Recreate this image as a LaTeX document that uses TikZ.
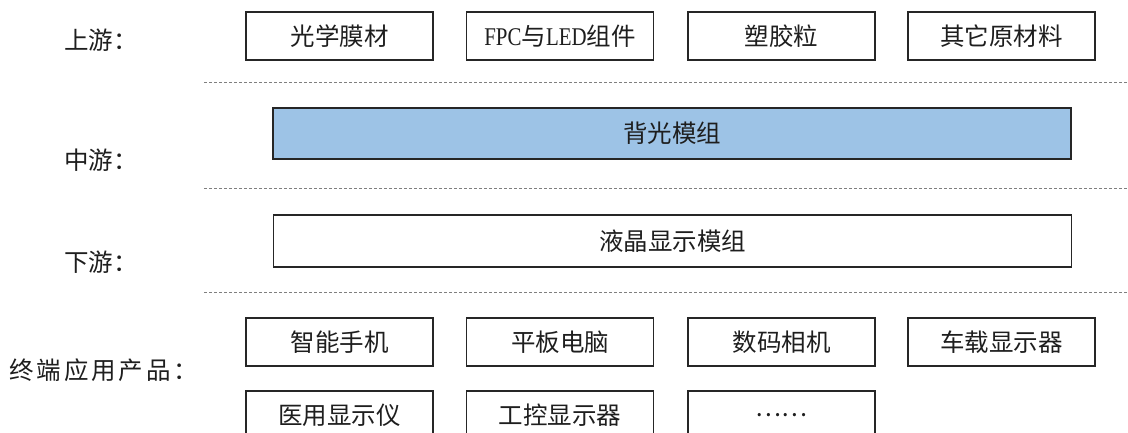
\documentclass[tikz,border=0pt]{standalone}
\usepackage{fontspec}
\setmainfont{Liberation Serif}
\newfontfamily\cjk{Noto Sans CJK SC}
\newfontfamily\latn[FakeStretch=0.82]{Liberation Serif}
\definecolor{linegray}{HTML}{7F7F7F}
\definecolor{boxblue}{HTML}{9DC3E6}
\definecolor{txt}{HTML}{1E1E1E}
\tikzset{
  every node/.style={text=txt},
  itembox/.style={draw=black!85, line width=1.2pt, minimum width=187pt, minimum height=48pt, inner sep=0pt, font=\cjk\fontsize{24.5}{28}\selectfont},
  widebox/.style={draw=black!85, line width=1.2pt, minimum width=798pt, minimum height=51pt, inner sep=0pt, font=\cjk\fontsize{24.5}{28}\selectfont},
  rowlabel/.style={anchor=west, inner sep=0pt, font=\cjk\fontsize{24.5}{28}\selectfont},
  sepline/.style={draw=linegray, line width=0.8pt, dash pattern=on 3pt off 2pt}
}
\begin{document}
\begin{tikzpicture}[x=1pt,y=-1pt]
\useasboundingbox (0,0) rectangle (1128,432);
\clip (0,0) rectangle (1128,432);
% labels
\node[rowlabel] (lup) at (64,40) {上游：};
\node[rowlabel] (lmid) at (64,160) {中游：};
\node[rowlabel] (ldown) at (64,262) {下游：};
\node[rowlabel] (lend) at (9,370) {\addfontfeature{LetterSpace=12}终端应用产品：};
% upstream
\node[itembox] (u1) at (339.5,36) {光学膜材};
\node[itembox] (u2) at (560,36) {{\latn\fontsize{25.5}{28}\selectfont FPC}与{\latn\fontsize{25.5}{28}\selectfont LED}组件};
\node[itembox] (u3) at (781.5,36) {塑胶粒};
\node[itembox] (u4) at (1001.5,36) {其它原材料};
% separators
\coordinate (s1a) at (204,82);  \coordinate (s1b) at (1128,82);
\coordinate (s2a) at (204,188); \coordinate (s2b) at (1128,188);
\coordinate (s3a) at (204,292.5); \coordinate (s3b) at (1128,292.5);
\draw[sepline] (s1a) -- (s1b);
\draw[sepline] (s2a) -- (s2b);
\draw[sepline] (s3a) -- (s3b);
% midstream
\node[widebox, fill=boxblue] (mid) at (672,133.5) {背光模组};
% downstream
\node[widebox, minimum height=52pt] (down) at (672.5,241) {液晶显示模组};
% end products
\node[itembox] (e1) at (339.5,342) {智能手机};
\node[itembox] (e2) at (560,342) {平板电脑};
\node[itembox] (e3) at (781.5,342) {数码相机};
\node[itembox] (e4) at (1001.5,342) {车载显示器};
\node[itembox] (e5) at (339.5,415) {医用显示仪};
\node[itembox] (e6) at (560,415) {工控显示器};
\node[itembox] (e7) at (781.5,415) {……};
\end{tikzpicture}
\end{document}
